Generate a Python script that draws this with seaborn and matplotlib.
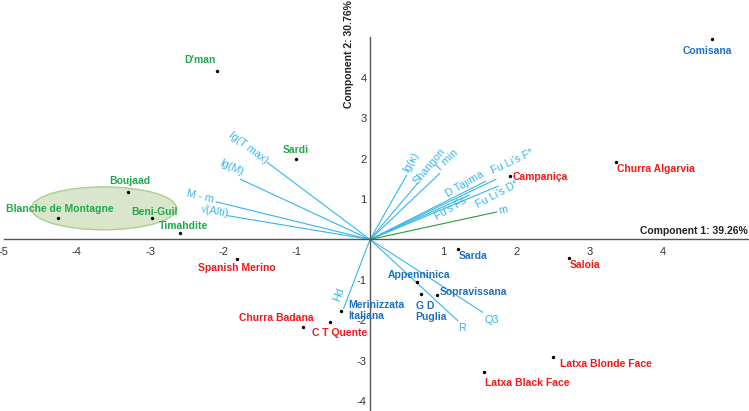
import matplotlib
matplotlib.use("Agg")
import matplotlib.pyplot as plt
from matplotlib.patches import Ellipse
import seaborn as sns
import pandas as pd

# ---------------- data ----------------
breeds = ["Comisana", "D'man", "Sardi", "Boujaad", "Blanche de Montagne", "Beni-Guil",
          "Timahdite", "Spanish Merino", "Churra Badana", "C T Quente",
          "Merinizzata\nItaliana", "Appenninica", "G D\nPuglia", "Sopravissana", "Sarda",
          "Campaniça", "Churra Algarvia", "Saloia", "Latxa Blonde Face", "Latxa Black Face"]
pc1 = [4.66, -2.09, -1.01, -3.30, -4.26, -2.97, -2.59, -1.82, -0.92, -0.55,
       -0.39, 0.64, 0.69, 0.91, 1.20, 1.91, 3.36, 2.71, 2.50, 1.56]
pc2 = [4.94, 4.16, 2.00, 1.17, 0.52, 0.52, 0.15, -0.48, -2.15, -2.03,
       -1.77, -1.06, -1.35, -1.37, -0.23, 1.58, 1.91, -0.46, -2.91, -3.26]
group = ["blue", "green", "green", "green", "green", "green", "green", "red", "red", "red",
         "blue", "blue", "blue", "blue", "blue", "red", "red", "red", "red", "red"]

variables = ["lg(T max)", "lg(M)", "M - m", "√(Alti)", "lg(κ)", "Shannon", "T min",
             "D Tajima", "Fu Li's F*", "Fu Li's D*", "Fu's Fs", "m", "Hd", "R", "Q3"]
load1 = [-1.40, -1.77, -2.10, -1.95, 0.50, 0.65, 0.95, 1.58, 1.72, 1.75, 1.36, 1.73, -0.36, 1.20, 1.54]
load2 = [1.90, 1.49, 0.93, 0.59, 1.59, 1.39, 1.63, 1.44, 1.49, 1.32, 1.10, 0.68, -1.70, -2.01, -1.80]

x_ticks = [-5, -4, -3, -2, -1, 1, 2, 3, 4]
y_ticks = [-4, -3, -2, -1, 1, 2, 3, 4]
x_title = "Component 1: 39.26%"
y_title = "Component 2: 30.76%"

# ---------------- layout / style ----------------
# label offsets in screen pixels (dx right, dy down) and alignment
pt_layout = {
    "Comisana": (-4, 12, "center"), "D'man": (-17, -11, "center"), "Sardi": (0, -9, "center"),
    "Boujaad": (2, -11, "center"), "Blanche de Montagne": (2, -9, "center"),
    "Beni-Guil": (2, -6, "center"), "Timahdite": (3, -7, "center"),
    "Spanish Merino": (0, 9, "center"), "Churra Badana": (-26, -9, "center"),
    "C T Quente": (10, 11, "center"), "Merinizzata\nItaliana": (7, -1, "left"),
    "Appenninica": (2, -7, "center"), "G D\nPuglia": (-5, 17, "left"),
    "Sopravissana": (3, -3, "left"), "Sarda": (1, 7, "left"), "Campaniça": (3, 1, "left"),
    "Churra Algarvia": (1, 7, "left"), "Saloia": (1, 7, "left"),
    "Latxa Blonde Face": (7, 7, "left"), "Latxa Black Face": (1, 11, "left"),
}
var_layout = {
    "lg(T max)": (-18.6, -15.2, -36.8), "lg(M)": (-8.3, -11.8, -24.8),
    "M - m": (-16, -5.7, -13.8), "√(Alti)": (-12.7, -4.7, -9.4),
    "lg(κ)": (5, -13.3, 60.4), "Shannon": (11.7, -16.6, 49.9), "T min": (6.7, -12.5, 43.4),
    "D Tajima": (-21, 2.5, 30), "Fu Li's F*": (16.5, -17, 25), "Fu Li's D*": (-1.3, 8, 28),
    "Fu's Fs": (-19, 14, 30), "m": (6, -2, 12), "Hd": (-4.3, -14.3, 68.8),
    "R": (4.4, 6.7, 0), "Q3": (9, 7.7, 0),
}
colors = {"green": "#1faa4c", "red": "#f21818", "blue": "#1f70c0"}
vec_color = "#35b6ea"
m_color = "#2a9a3a"
fam = ["Liberation Sans", "DejaVu Sans"]

sns.set_style("white")
plt.rcParams["font.family"] = fam

fig = plt.figure(figsize=(7.49, 4.11), dpi=100)
ax = fig.add_axes([0, 0, 1, 1])
ax.set_xlim(-5.048, 5.17)
ax.set_ylim(-4.235, 5.914)

# ellipse
ax.add_patch(Ellipse((-3.63, 0.77), 1.98, 1.06, facecolor="#d9e6cb",
                     edgecolor="#a9d08d", linewidth=1.0, zorder=1))

# axes through origin
for s in ["top", "right"]:
    ax.spines[s].set_visible(False)
ax.spines["left"].set_position(("data", 0))
ax.spines["bottom"].set_position(("data", 0))
ax.spines["left"].set_bounds(-4.235, 5.0)
ax.spines["bottom"].set_bounds(-5.0, 5.17)
for s in ["left", "bottom"]:
    ax.spines[s].set_color("#555555")
    ax.spines[s].set_linewidth(1.0)
ax.set_xticks(x_ticks)
ax.set_yticks(y_ticks)
ax.set_xticklabels([str(t) for t in x_ticks])
ax.set_yticklabels([str(t) for t in y_ticks], va="center_baseline")
ax.tick_params(axis="both", direction="inout", length=5, width=0.8, color="#555555",
               labelsize=8, labelcolor="#333333")
ax.tick_params(axis="y", pad=0)
ax.tick_params(axis="x", pad=3)
ax.set_xlabel("")
ax.set_ylabel("")

# loading vectors
for name, lx, ly in zip(variables, load1, load2):
    c = m_color if name == "m" else vec_color
    ax.plot([0, lx], [0, ly], color=c, linewidth=0.8, zorder=2)
    dx, dy, rot = var_layout[name]
    ax.annotate(name, (lx, ly), xytext=(dx, -dy), textcoords="offset pixels",
                ha="center", va="center", rotation=rot, rotation_mode="anchor",
                color=vec_color, fontsize=7.8, family=fam, zorder=4)

# breed points
df = pd.DataFrame({"PC1": pc1, "PC2": pc2, "breed": breeds, "group": group})
sns.scatterplot(data=df, x="PC1", y="PC2", color="black", s=6, linewidth=0, ax=ax, zorder=5,
                legend=False)
ax.set_xlabel("")
ax.set_ylabel("")
for _, r in df.iterrows():
    dx, dy, ha = pt_layout[r["breed"]]
    ax.annotate(r["breed"], (r["PC1"], r["PC2"]), xytext=(dx, -dy), textcoords="offset pixels",
                ha=ha, va="center", color=colors[r["group"]], fontsize=7.5,
                fontweight="bold", family=fam, linespacing=1.15, zorder=6)

# axis titles
fig.text(748 / 749, 1 - 231 / 411, x_title, ha="right", va="center",
         fontsize=7.5, fontweight="bold", color="#222222", family=fam)
fig.text(348.5 / 749, 1 - 108 / 411, y_title, ha="center", va="bottom", rotation=90,
         fontsize=7.5, fontweight="bold", color="#222222", family=fam)

fig.savefig("out.png", dpi=100)
